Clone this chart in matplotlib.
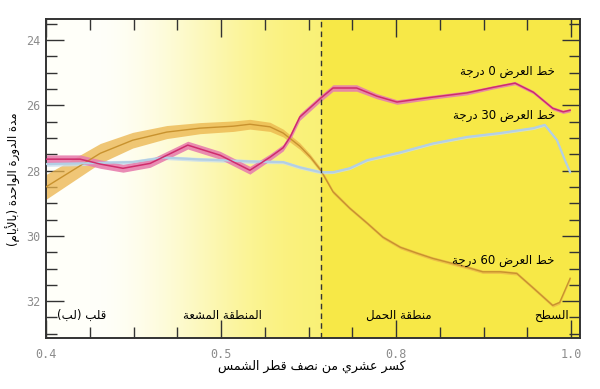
import re
import numpy as np
import matplotlib
matplotlib.use("Agg")
import matplotlib.pyplot as plt
from matplotlib.ticker import MultipleLocator

# ---- data ----
pink_x = [0.400, 0.439, 0.462, 0.488, 0.519, 0.562, 0.599, 0.633, 0.656, 0.671, 0.679, 0.690,
          0.714, 0.728, 0.755, 0.778, 0.801, 0.842, 0.881, 0.911, 0.936, 0.957, 0.979, 0.991, 0.999]
pink_y = [27.65, 27.65, 27.80, 27.93, 27.78, 27.22, 27.53, 27.99, 27.59, 27.30, 26.97, 26.36,
          25.78, 25.47, 25.47, 25.72, 25.90, 25.75, 25.62, 25.45, 25.32, 25.60, 26.09, 26.20, 26.15]
pink_e = [0.13, 0.13, 0.13, 0.12, 0.12, 0.12, 0.12, 0.12, 0.10, 0.10, 0.10, 0.10,
          0.10, 0.10, 0.10, 0.08, 0.07, 0.06, 0.06, 0.05, 0.05, 0.05, 0.05, 0.05, 0.05]

blue_x = [0.400, 0.439, 0.499, 0.534, 0.576, 0.599, 0.633, 0.671, 0.690, 0.714, 0.728,
          0.747, 0.767, 0.805, 0.842, 0.881, 0.919, 0.957, 0.970, 0.984, 0.993, 0.999]
blue_y = [27.80, 27.78, 27.74, 27.60, 27.66, 27.68, 27.72, 27.74, 27.90, 28.05, 28.05,
          27.93, 27.68, 27.44, 27.17, 26.97, 26.85, 26.70, 26.60, 27.07, 27.68, 28.05]
blue_e = [0.07, 0.07, 0.06, 0.06, 0.06, 0.06, 0.06, 0.05, 0.05, 0.05, 0.04,
          0.04, 0.04, 0.04, 0.04, 0.04, 0.04, 0.04, 0.04, 0.04, 0.04, 0.04]

orange_x = [0.400, 0.424, 0.462, 0.499, 0.538, 0.576, 0.614, 0.633, 0.656, 0.671, 0.690, 0.702,
            0.714, 0.728, 0.747, 0.767, 0.785, 0.805, 0.824, 0.842, 0.881, 0.899, 0.919, 0.938,
            0.957, 0.979, 0.987, 0.999]
orange_y = [28.50, 28.10, 27.47, 27.07, 26.82, 26.70, 26.64, 26.58, 26.66, 26.85, 27.25, 27.58,
            27.99, 28.65, 29.15, 29.61, 30.04, 30.35, 30.53, 30.69, 30.96, 31.10, 31.10, 31.15,
            31.60, 32.13, 32.04, 31.30]
orange_e = [0.38, 0.35, 0.30, 0.24, 0.20, 0.17, 0.16, 0.15, 0.14, 0.12, 0.10, 0.08,
            0.07, 0.06, 0.05, 0.05, 0.05, 0.05, 0.05, 0.05, 0.05, 0.05, 0.05, 0.05,
            0.05, 0.05, 0.05, 0.05]

tachocline = 0.714
xtick_pos = [0.4, 0.6, 0.8, 1.0]
xtick_lab = ['0.4', '0.5', '0.8', '1.0']
ytick_pos = [24, 26, 28, 30, 32]

# ---- minimal arabic shaping (matplotlib has no bidi/shaping) ----
BASE = {'ا': 0xFE8D, 'أ': 0xFE83, 'آ': 0xFE81, 'إ': 0xFE87, 'ب': 0xFE8F, 'ت': 0xFE95,
        'ة': 0xFE93, 'ث': 0xFE99, 'ج': 0xFE9D, 'ح': 0xFEA1, 'خ': 0xFEA5, 'د': 0xFEA9,
        'ذ': 0xFEAB, 'ر': 0xFEAD, 'ز': 0xFEAF, 'س': 0xFEB1, 'ش': 0xFEB5, 'ص': 0xFEB9,
        'ض': 0xFEBD, 'ط': 0xFEC1, 'ظ': 0xFEC5, 'ع': 0xFEC9, 'غ': 0xFECD, 'ف': 0xFED1,
        'ق': 0xFED5, 'ك': 0xFED9, 'ل': 0xFEDD, 'م': 0xFEE1, 'ن': 0xFEE5, 'ه': 0xFEE9,
        'و': 0xFEED, 'ي': 0xFEF1, 'ى': 0xFEEF}
RIGHT_ONLY = set('اأآإدذرزوةى')
LAM_ALEF = {'ا': 0xFEFB, 'أ': 0xFEF7, 'إ': 0xFEF9, 'آ': 0xFEF5}
MIRROR = str.maketrans('()', ')(')


def joins_next(c):
    return c in BASE and c not in RIGHT_ONLY


def ar(s):
    out = []
    i = 0
    while i < len(s):
        c = s[i]
        if c not in BASE:
            out.append(c)
            i += 1
            continue
        p = i > 0 and joins_next(s[i - 1])
        if c == 'ل' and i + 1 < len(s) and s[i + 1] in LAM_ALEF:
            out.append(chr(LAM_ALEF[s[i + 1]] + (1 if p else 0)))
            i += 2
            continue
        n = joins_next(c) and i + 1 < len(s) and s[i + 1] in BASE
        f = 3 if (p and n) else 1 if p else 2 if n else 0
        out.append(chr(BASE[c] + f))
        i += 1
    shaped = ''.join(out)
    parts = re.findall(r'[0-9.]+|[^0-9.]+', shaped)
    vis = []
    for part in reversed(parts):
        if part[0].isdigit():
            vis.append(part)
        else:
            vis.append(part[::-1].translate(MIRROR))
    return ''.join(vis)


plt.rcParams['font.family'] = ['DejaVu Sans']

fig = plt.figure(figsize=(6.0, 3.89), dpi=100)
ax = fig.add_axes([0.0767, 0.131, 0.89, 0.819])

xlo, xhi = 0.4, 1.0103
ylo, yhi = 33.13, 23.37

# background gradient: white -> pale yellow, solid yellow past the tachocline
gx = np.linspace(xlo, xhi, 600)
t = np.clip((gx - 0.45) / (tachocline - 0.45), 0, 1)
t = t * t * (3 - 2 * t)
white = np.array([1.0, 1.0, 0.98])
pale = np.array([0.98, 0.945, 0.47])
solid = np.array([0.97, 0.91, 0.28])
cols = white[None, :] * (1 - t[:, None]) + pale[None, :] * t[:, None]
cols[gx >= tachocline] = solid
ax.imshow(cols[None, :, :], extent=[xlo, xhi, ylo, yhi], aspect='auto', zorder=0,
          interpolation='bilinear')

# bands
for xs, ys, es, band, core, lw, a in [
        (orange_x, orange_y, orange_e, '#ebb44a', '#c8922e', 1.0, 0.75),
        (blue_x, blue_y, blue_e, '#c9def0', '#b3cfe4', 1.6, 0.8),
        (pink_x, pink_y, pink_e, '#e77fae', '#cf2c6c', 1.1, 0.9)]:
    xs = np.array(xs); ys = np.array(ys); es = np.array(es)
    ax.fill_between(xs, ys - es, ys + es, color=band, alpha=a, lw=0, zorder=2)
    ax.plot(xs, ys, color=core, lw=lw, zorder=3)

ax.axvline(tachocline, color='#333333', lw=1.0, ls=(0, (4, 3)), zorder=4)

ax.set_xlim(xlo, xhi)
ax.set_ylim(ylo, yhi)

ax.set_xticks(xtick_pos)
ax.set_xticklabels(xtick_lab)
ax.xaxis.set_minor_locator(MultipleLocator(0.05))
ax.set_yticks(ytick_pos)
ax.yaxis.set_minor_locator(MultipleLocator(0.5))
ax.tick_params(which='both', direction='in', top=True, right=True, color='#333333', width=1.0)
ax.tick_params(which='major', length=13)
ax.tick_params(which='minor', length=8)
ax.tick_params(axis='both', which='major', labelcolor='#8c8c8c', labelsize=8.5)
ax.tick_params(axis='x', which='major', pad=7)
ax.tick_params(axis='y', which='major', pad=4)
for lab in ax.get_xticklabels() + ax.get_yticklabels():
    lab.set_family('DejaVu Sans Mono')
for sp in ax.spines.values():
    sp.set_color('#333333')
    sp.set_linewidth(1.4)

# labels
txt = dict(fontsize=8.5, color='black', ha='center', va='center', zorder=5)
ax.text(0.927, 24.95, ar('خط العرض 0 درجة'), **txt)
ax.text(0.923, 26.32, ar('خط العرض 30 درجة'), **txt)
ax.text(0.923, 30.75, ar('خط العرض 60 درجة'), **txt)
ax.text(0.441, 32.45, ar('قلب (لب)'), **txt)
ax.text(0.602, 32.45, ar('المنطقة المشعة'), **txt)
ax.text(0.803, 32.45, ar('منطقة الحمل'), **txt)
ax.text(0.978, 32.45, ar('السطح'), **txt)

fig.text(0.52, 0.058, ar('كسر عشري من نصف قطر الشمس'), fontsize=9, ha='center', va='center')
fig.text(0.022, 0.54, ar('مدة الدورة الواحدة (بالأيام)'), fontsize=8.5, rotation=90,
         ha='center', va='center')

fig.savefig('out.png', dpi=100)
